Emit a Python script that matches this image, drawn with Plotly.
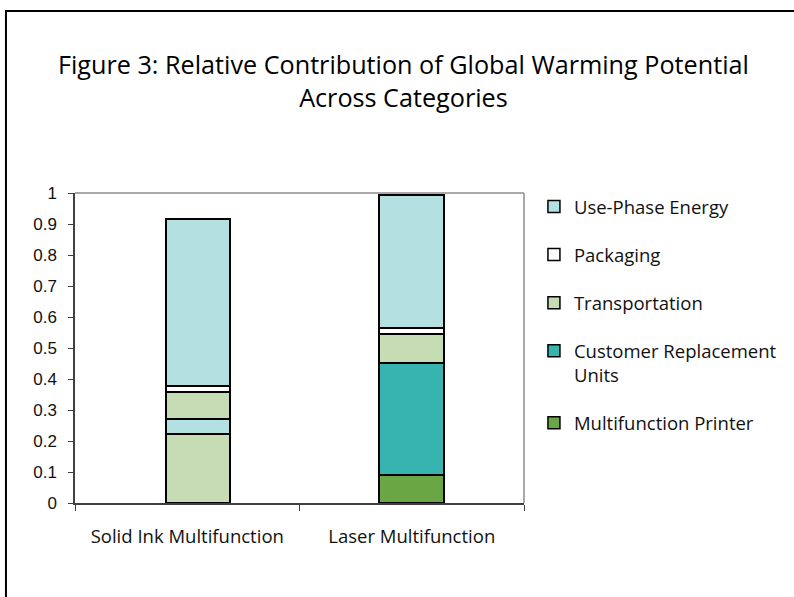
import plotly.graph_objects as go

# ---- data -------------------------------------------------------------
categories = ["Solid Ink Multifunction", "Laser Multifunction"]
series_names = [
    "Multifunction Printer",
    "Customer Replacement Units",
    "Transportation",
    "Packaging",
    "Use-Phase Energy",
]
multifunction_printer = [0.222, 0.090]
customer_replacement_units = [0.050, 0.362]
transportation = [0.086, 0.093]
packaging = [0.019, 0.018]
use_phase_energy = [0.540, 0.432]

y_tick_values = [0, 0.1, 0.2, 0.3, 0.4, 0.5, 0.6, 0.7, 0.8, 0.9, 1]
y_tick_labels = ["0", "0.1", "0.2", "0.3", "0.4", "0.5", "0.6", "0.7", "0.8", "0.9", "1"]

# ---- styling ----------------------------------------------------------
LIGHT_CYAN = "#b3e1e1"
LIGHT_GREEN = "#c5dcb4"
TEAL = "#37b4b0"
GREEN = "#6aa744"
WHITE = "#ffffff"

legend_colors = [GREEN, TEAL, LIGHT_GREEN, WHITE, LIGHT_CYAN]
# per-bar fills (the solid ink bar uses its own shading for the lower segments)
point_colors = [
    [LIGHT_GREEN, GREEN],
    [LIGHT_CYAN, TEAL],
    [LIGHT_GREEN, LIGHT_GREEN],
    [WHITE, WHITE],
    [LIGHT_CYAN, LIGHT_CYAN],
]
series_values = [
    multifunction_printer,
    customer_replacement_units,
    transportation,
    packaging,
    use_phase_energy,
]
legend_labels = [
    "Multifunction Printer",
    "Customer Replacement<br>Units",
    "Transportation",
    "Packaging",
    "Use-Phase Energy",
]

# bar width and per-category offsets, in category units
BAR_WIDTH = 0.288
BAR_OFFSETS = [-0.096, -0.144]

W, H = 794, 597
L, R, T, B = 75, 527, 193, 503  # plot area in pixels
plot_w, plot_h = R - L, B - T


def px_x(p):
    return (p - L) / plot_w


def px_y(p):
    return (B - p) / plot_h


fig = go.Figure()

for name, vals, cols in zip(series_names, series_values, point_colors):
    fig.add_trace(go.Bar(
        x=categories, y=vals, name=name,
        width=BAR_WIDTH, offset=BAR_OFFSETS,
        marker=dict(color=cols, line=dict(color="#000000", width=2)),
        showlegend=False, hoverinfo="x+y+name",
    ))

# legend entries carry the series colour; top of the stack is listed first
n = len(series_names)
for i, (name, lab, col) in enumerate(zip(series_names, legend_labels, legend_colors)):
    fig.add_trace(go.Bar(
        x=[None], y=[None], name=lab, legendgroup=name,
        legendrank=n - i,
        marker=dict(color=col, line=dict(color="#000000", width=1.5)),
        showlegend=True,
    ))

AXIS_COLOR = "#404040"

fig.update_layout(
    width=W, height=H,
    margin=dict(l=L, r=W - R, t=T, b=H - B),
    barmode="stack",
    paper_bgcolor="white",
    plot_bgcolor="white",
    font=dict(family="Open Sans", color="#111111"),
    xaxis=dict(
        categoryorder="array", categoryarray=categories,
        range=[-0.5, 1.5],
        showline=True, linecolor=AXIS_COLOR, linewidth=1.5,
        ticks="outside", tickson="boundaries", ticklen=6, tickcolor=AXIS_COLOR,
        tickfont=dict(family="Open Sans", size=18.5, color="#111111"),
        ticklabelstandoff=16,
        showgrid=False, zeroline=False,
    ),
    yaxis=dict(
        range=[0, 1],
        tickvals=y_tick_values, ticktext=y_tick_labels,
        showline=True, linecolor=AXIS_COLOR, linewidth=1.5,
        ticks="outside", ticklen=5, tickcolor=AXIS_COLOR,
        tickfont=dict(family="Liberation Sans", size=17, color="#111111"),
        ticklabelstandoff=8,
        showgrid=False, zeroline=False,
    ),
    legend=dict(
        x=px_x(537), y=px_y(188), xanchor="left", yanchor="top",
        traceorder="grouped", tracegroupgap=21,
        valign="top",
        font=dict(family="Open Sans", size=18.5, color="#111111"),
        bgcolor="rgba(0,0,0,0)",
    ),
    annotations=[dict(
        text="Figure 3: Relative Contribution of Global Warming Potential<br>Across Categories",
        xref="paper", yref="paper", x=px_x(406), y=px_y(81),
        xanchor="center", yanchor="middle", showarrow=False,
        font=dict(family="Open Sans", size=25.2, color="#000000"),
    )],
    shapes=[
        # top and right edges of the plot frame
        dict(type="line", xref="paper", yref="paper", x0=0, x1=1, y0=1, y1=1,
             line=dict(color="#8c8c8c", width=1.5)),
        dict(type="line", xref="paper", yref="paper", x0=1, x1=1, y0=0, y1=1,
             line=dict(color="#8c8c8c", width=1.5)),
        # outer chart border
        dict(type="rect", xref="paper", yref="paper",
             x0=px_x(5.5), x1=px_x(820), y0=px_y(620), y1=px_y(11),
             line=dict(color="#000000", width=2), layer="below"),
    ],
)

fig.write_html("out.html")
